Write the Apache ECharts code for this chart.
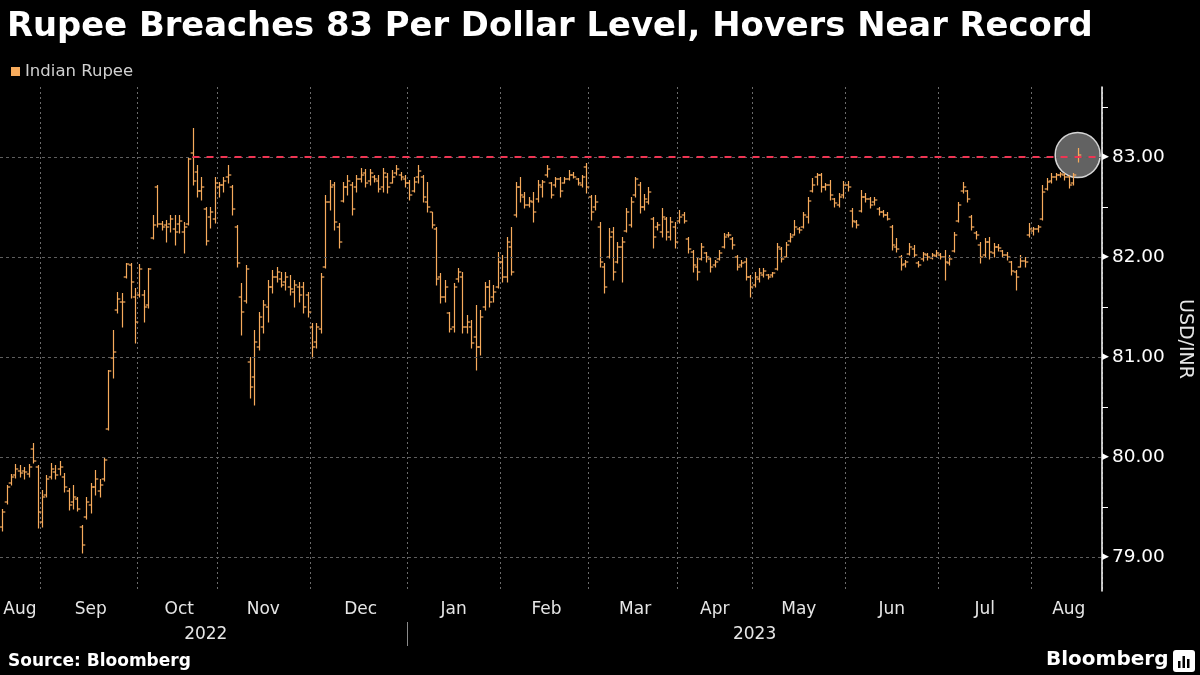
<!DOCTYPE html>
<html><head><meta charset="utf-8">
<script src="https://cdn.jsdelivr.net/npm/echarts@6/dist/echarts.min.js"></script>
<style>html,body{margin:0;padding:0;background:#000;}#c{width:1200px;height:675px;}</style>
</head><body><div id="c"></div>
<script>
// ---- data: daily OHLC [open, high, low, close] of USD/INR, by month ----
const holidays = ['2022-08-31','2022-10-05','2022-10-24','2022-10-26','2022-11-08','2023-01-26',
  '2023-03-07','2023-03-22','2023-03-30','2023-04-04','2023-04-07','2023-04-14','2023-05-01',
  '2023-05-05','2023-06-29','2023-08-15','2023-08-16'];
const aug22 = [[79.30,79.48,79.26,79.45],[79.55,79.72,79.53,79.70],[79.74,79.83,79.72,79.80],[79.82,79.93,79.79,79.88],
  [79.86,79.92,79.80,79.84],[79.86,79.90,79.78,79.85],[79.83,79.93,79.80,79.90],[80.08,80.14,79.94,79.96],[79.90,79.92,79.29,79.45]];
const sep22 = [[79.35,79.67,79.30,79.60],[79.62,79.82,79.60,79.78],[79.80,79.94,79.78,79.88],[79.85,79.92,79.78,79.82],
  [79.88,79.96,79.82,79.90],[79.80,79.84,79.65,79.70],[79.66,79.69,79.47,79.52],[79.55,79.72,79.48,79.60],
  [79.58,79.60,79.46,79.48],[79.30,79.32,79.04,79.12],[79.40,79.60,79.38,79.55],[79.52,79.74,79.44,79.70],
  [79.70,79.87,79.62,79.78],[79.66,79.78,79.60,79.72],[79.78,80.00,79.76,79.97],[80.28,80.87,80.27,80.86],
  [80.99,81.27,80.79,81.05],[81.47,81.65,81.44,81.58],[81.55,81.64,81.30,81.55],[81.80,81.94,81.79,81.93],
  [81.92,81.94,81.59,81.75],[81.60,81.69,81.14,81.35]];
const oct22 = [[81.62,81.93,81.60,81.88],[81.62,81.67,81.35,81.50],[81.52,81.89,81.49,81.88],[82.19,82.42,82.18,82.32],
  [82.70,82.72,82.30,82.33],[82.33,82.36,82.27,82.30],[82.32,82.37,82.15,82.30],[82.33,82.42,82.25,82.38],
  [82.28,82.42,82.12,82.25],[82.33,82.42,82.24,82.36],[82.25,82.35,82.04,82.30],[82.33,82.99,82.32,82.98],
  [83.04,83.29,82.72,82.76],[82.85,82.92,82.60,82.66],[82.66,82.80,82.57,82.70],[82.48,82.50,82.12,82.16],
  [82.40,82.50,82.29,82.45],[82.38,82.80,82.34,82.74]];
const nov22 = [[82.70,82.75,82.60,82.72],[82.72,82.80,82.65,82.76],[82.80,82.92,82.74,82.82],[82.70,82.72,82.42,82.48],
  [82.30,82.32,81.90,81.94],[81.60,81.74,81.22,81.45],[81.56,81.92,81.54,81.88],[80.95,81.00,80.59,80.70],
  [80.80,81.27,80.52,81.15],[81.10,81.45,81.07,81.40],[81.30,81.57,81.24,81.52],[81.50,81.77,81.35,81.70],
  [81.70,81.87,81.64,81.80],[81.80,81.90,81.75,81.85],[81.78,81.85,81.70,81.72],[81.75,81.85,81.67,81.80],
  [81.70,81.82,81.62,81.68],[81.65,81.77,81.50,81.72],[81.70,81.75,81.55,81.62],[81.70,81.75,81.44,81.50],
  [81.62,81.65,81.40,81.45]];
const dec22 = [[81.30,81.34,80.99,81.10],[81.15,81.34,81.09,81.30],[81.28,81.84,81.24,81.80],[81.90,82.62,81.89,82.55],
  [82.55,82.77,82.47,82.70],[82.72,82.75,82.27,82.35],[82.30,82.34,82.09,82.15],[82.56,82.75,82.55,82.70],
  [82.70,82.82,82.62,82.76],[82.72,82.75,82.42,82.48],[82.70,82.82,82.65,82.78],[82.78,82.89,82.75,82.82],
  [82.84,82.88,82.70,82.74],[82.76,82.88,82.72,82.84],[82.80,82.82,82.75,82.78],[82.76,82.82,82.65,82.68],
  [82.70,82.89,82.65,82.84],[82.80,82.84,82.64,82.70],[82.74,82.87,82.74,82.80],[82.84,82.92,82.82,82.88],
  [82.82,82.85,82.77,82.80],[82.78,82.82,82.70,82.74]];
const jan23 = [[82.74,82.77,82.57,82.62],[82.66,82.80,82.65,82.75],[82.80,82.92,82.74,82.86],[82.80,82.82,82.55,82.60],
  [82.55,82.75,82.45,82.50],[82.45,82.45,82.29,82.32],[82.28,82.30,81.72,81.78],[81.80,81.84,81.54,81.60],
  [81.60,81.77,81.55,81.70],[81.44,81.45,81.25,81.28],[81.30,81.74,81.25,81.70],[81.78,81.89,81.75,81.85],
  [81.80,81.85,81.24,81.30],[81.30,81.42,81.24,81.35],[81.30,81.37,81.09,81.14],[81.20,81.52,80.87,81.10],
  [81.10,81.47,81.02,81.40],[81.50,81.75,81.47,81.70],[81.70,81.77,81.50,81.55],[81.60,81.72,81.55,81.65],
  [81.70,82.05,81.69,81.95]];
const feb23 = [[81.95,82.02,81.75,81.80],[81.80,82.20,81.75,82.15],[82.10,82.30,81.82,81.85],[82.42,82.75,82.40,82.70],
  [82.70,82.80,82.55,82.62],[82.60,82.65,82.49,82.52],[82.52,82.60,82.50,82.56],[82.55,82.65,82.35,82.45],
  [82.58,82.77,82.55,82.72],[82.70,82.77,82.60,82.75],[82.82,82.92,82.80,82.88],[82.74,82.75,82.59,82.62],
  [82.72,82.80,82.70,82.78],[82.78,82.80,82.60,82.66],[82.74,82.80,82.74,82.78],[82.78,82.87,82.77,82.82],
  [82.82,82.85,82.79,82.80],[82.78,82.79,82.72,82.74],[82.72,82.82,82.70,82.80],[82.90,82.94,82.64,82.70]];
const mar23 = [[82.60,82.62,82.37,82.45],[82.50,82.62,82.47,82.55],[82.30,82.35,81.90,81.95],[81.90,81.94,81.64,81.70],
  [82.00,82.29,81.99,82.20],[82.25,82.30,81.77,81.85],[81.95,82.15,81.94,82.10],[82.10,82.20,81.75,82.15],
  [82.26,82.49,82.25,82.45],[82.32,82.60,82.30,82.55],[82.62,82.80,82.60,82.78],[82.72,82.75,82.44,82.50],
  [82.50,82.63,82.47,82.58],[82.55,82.70,82.53,82.65],[82.38,82.40,82.09,82.20],[82.30,82.35,82.27,82.32],
  [82.25,82.49,82.20,82.40],[82.38,82.40,82.17,82.25],[82.20,82.40,82.17,82.35],[82.30,82.35,82.09,82.15]];
const apr23 = [[82.36,82.47,82.34,82.40],[82.42,82.45,82.34,82.36],[82.18,82.20,82.04,82.08],[82.05,82.07,81.85,81.92],
  [81.90,81.99,81.77,81.85],[81.98,82.14,81.97,82.10],[82.04,82.05,81.95,82.00],[81.98,81.99,81.85,81.90],
  [81.92,81.97,81.90,81.95],[81.98,82.07,81.97,82.04],[82.10,82.24,82.09,82.20],[82.22,82.25,82.20,82.22],
  [82.18,82.20,82.08,82.12],[82.00,82.02,81.87,81.90],[81.92,81.97,81.90,81.94],[81.95,81.99,81.77,81.80],
  [81.80,81.82,81.60,81.70]];
const may23 = [[81.72,81.85,81.70,81.80],[81.78,81.89,81.75,81.84],[81.82,81.89,81.80,81.86],[81.82,81.83,81.78,81.80],
  [81.82,81.85,81.80,81.84],[81.88,82.14,81.87,82.10],[82.08,82.10,81.95,81.98],[82.00,82.15,82.00,82.12],
  [82.16,82.24,82.15,82.20],[82.22,82.37,82.22,82.30],[82.28,82.30,82.24,82.27],[82.30,82.45,82.29,82.42],
  [82.40,82.60,82.34,82.56],[82.66,82.79,82.65,82.72],[82.80,82.84,82.72,82.82],[82.82,82.84,82.65,82.70],
  [82.70,82.74,82.67,82.72],[82.72,82.77,82.57,82.62],[82.58,82.59,82.50,82.54],[82.52,82.64,82.50,82.60],
  [82.62,82.76,82.59,82.72]];
const jun23 = [[82.72,82.76,82.66,82.70],[82.46,82.49,82.30,82.36],[82.35,82.37,82.29,82.32],[82.46,82.67,82.45,82.60],
  [82.60,82.64,82.55,82.58],[82.58,82.60,82.49,82.52],[82.55,82.60,82.52,82.57],[82.48,82.50,82.42,82.45],
  [82.45,82.47,82.40,82.42],[82.42,82.45,82.37,82.38],[82.30,82.32,82.07,82.12],[82.10,82.19,82.05,82.08],
  [82.00,82.02,81.87,81.92],[81.93,81.97,81.90,81.95],[82.03,82.14,82.02,82.10],[82.08,82.12,82.00,82.02],
  [81.94,81.96,81.90,81.92],[81.98,82.05,81.96,82.03],[82.02,82.04,81.97,82.00],[81.99,82.04,81.98,82.02],
  [82.01,82.07,82.00,82.04]];
const jul23 = [[82.02,82.04,81.98,82.00],[82.00,82.07,81.77,81.95],[81.94,82.02,81.92,81.98],[82.06,82.25,82.05,82.22],
  [82.36,82.55,82.35,82.52],[82.66,82.75,82.64,82.70],[82.66,82.67,82.55,82.58],[82.40,82.42,82.27,82.30],
  [82.24,82.26,82.18,82.22],[82.12,82.15,81.94,82.00],[82.02,82.19,82.00,82.15],[82.15,82.20,81.98,82.05],
  [82.04,82.14,82.00,82.10],[82.10,82.13,82.06,82.09],[82.06,82.07,82.00,82.02],[82.02,82.05,81.97,82.00],
  [81.95,81.96,81.82,81.86],[81.85,81.87,81.67,81.80],[81.90,82.02,81.90,81.96],[81.96,82.00,81.90,81.95],
  [82.22,82.34,82.20,82.28]];
const aug23 = [[82.26,82.30,82.22,82.28],[82.28,82.32,82.25,82.30],[82.38,82.72,82.37,82.65],[82.68,82.79,82.67,82.75],
  [82.76,82.84,82.74,82.80],[82.80,82.84,82.77,82.82],[82.82,82.85,82.80,82.83],[82.82,82.84,82.77,82.80],
  [82.80,82.82,82.69,82.72],[82.74,82.84,82.72,82.82],[83.00,83.09,82.95,83.02]];
const yTickLabels = [79, 80, 81, 82, 83];
const yMinorTicks = [79.5, 80.5, 81.5, 82.5, 83.5];
const recordLevel = 83.0;
const recordStartDate = '2022-10-20';
const monthNames = ['Jan','Feb','Mar','Apr','May','Jun','Jul','Aug','Sep','Oct','Nov','Dec'];

// ---- trading calendar (weekdays minus Indian market holidays) ----
function weekdays(from, to) {
  const out = []; const d = new Date(from + 'T00:00:00Z'); const end = new Date(to + 'T00:00:00Z');
  while (d <= end) { const w = d.getUTCDay(); if (w !== 0 && w !== 6) out.push(d.toISOString().slice(0, 10)); d.setUTCDate(d.getUTCDate() + 1); }
  return out;
}
const tradingDates = weekdays('2022-08-18', '2023-08-17').filter(d => !holidays.includes(d));
const padDates = weekdays('2023-08-18', '2023-08-24');
const categories = tradingDates.concat(padDates);
const ohlc = [].concat(aug22, sep22, oct22, nov22, dec22, jan23, feb23, mar23, apr23, may23, jun23, jul23, aug23);
const seriesData = ohlc.map((v, i) => [i, v[0], v[1], v[2], v[3]]);
const lastIdx = ohlc.length - 1;

// month boundaries & label positions
const monthStart = new Set(); const monthLabelIdx = new Set();
(function () {
  let start = 0;
  for (let i = 1; i <= categories.length; i++) {
    if (i === categories.length || categories[i].slice(0, 7) !== categories[i - 1].slice(0, 7)) {
      monthLabelIdx.add(start + Math.floor((i - start) / 2));
      if (i < categories.length) monthStart.add(i);
      start = i;
    }
  }
})();
const yearStartIdx = categories.findIndex(d => d.startsWith('2023'));
const yearLabelIdx = new Set([Math.floor(yearStartIdx / 2), yearStartIdx + Math.floor((categories.length - yearStartIdx) / 2)]);

const FONT = 'DejaVu Sans';
const BAR = '#f7ab5c';
const chart = echarts.init(document.getElementById('c'), null, { renderer: 'canvas' });
chart.setOption({
  backgroundColor: '#000',
  animation: false,
  title: { text: 'Rupee Breaches 83 Per Dollar Level, Hovers Near Record', left: 2, top: 5,
    textStyle: { color: '#fff', fontSize: 33.8, fontWeight: 'bold', fontFamily: FONT } },
  legend: { data: ['Indian Rupee'], left: 6, top: 58, icon: 'rect', itemWidth: 9, itemHeight: 9, itemGap: 6,
    textStyle: { color: '#d0d0d0', fontSize: 16.5, fontFamily: FONT } },
  grid: { left: 0, right: 98, top: 87, bottom: 84, containLabel: false, outerBoundsMode: 'none' },
  xAxis: [{
    type: 'category', data: categories, boundaryGap: true,
    axisLine: { show: false }, axisTick: { show: false },
    axisLabel: { interval: (i) => monthLabelIdx.has(i), color: '#e6e6e6', fontSize: 17, fontFamily: FONT, margin: 10,
      formatter: (v) => monthNames[parseInt(v.slice(5, 7), 10) - 1] },
    splitLine: { show: true, interval: (i) => monthStart.has(i), lineStyle: { color: '#6a6a6a', type: [2, 3], width: 1 } }
  }, {
    type: 'category', data: categories, boundaryGap: true, position: 'bottom', offset: 32,
    axisLine: { show: false }, axisTick: { show: false },
    axisLabel: { interval: (i) => yearLabelIdx.has(i), color: '#e6e6e6', fontSize: 17, fontFamily: FONT, margin: 3,
      formatter: (v) => v.slice(0, 4) },
    splitLine: { show: false }
  }],
  yAxis: {
    type: 'value', position: 'right', min: 78.66, max: 83.70, scale: true,
    name: 'USD/INR', nameLocation: 'middle', nameRotate: -90, nameGap: 73,
    nameTextStyle: { color: '#e6e6e6', fontSize: 19, fontFamily: FONT },
    axisLine: { show: true, lineStyle: { color: '#fff', width: 1.5 } },
    axisTick: { show: true, customValues: yMinorTicks, length: 6, lineStyle: { color: '#fff', width: 1 } },
    axisLabel: { customValues: yTickLabels, margin: 0, color: '#fff', fontSize: 18.5, fontFamily: FONT,
      formatter: (v) => '{t|▶}' + v.toFixed(2),
      rich: { t: { fontSize: 9, color: '#fff', padding: [0, 3, 0, 0] } } },
    splitLine: { show: false }
  },
  series: [{
    name: 'record', type: 'scatter', z: 1, silent: true,
    data: [[lastIdx, ohlc[lastIdx][3]]], symbol: 'circle', symbolSize: 45,
    itemStyle: { color: '#7a7a7a', borderColor: '#ffffff', borderWidth: 1.5 },
    markLine: { silent: true, symbol: 'none', label: { show: false },
      lineStyle: { color: '#5e5e5e', type: [3, 3], width: 1 },
      data: yTickLabels.map(v => ({ yAxis: v })) }
  }, {
    name: 'Indian Rupee', type: 'custom', z: 3,
    itemStyle: { color: BAR },
    encode: { x: 0, y: [1, 2, 3, 4] },
    data: seriesData,
    renderItem: function (params, api) {
      const i = api.value(0);
      const pH = api.coord([i, api.value(2)]), pL = api.coord([i, api.value(3)]);
      const pO = api.coord([i, api.value(1)]), pC = api.coord([i, api.value(4)]);
      const t = 2.8; const x = Math.round(pH[0]) + 0.5;
      const st = { stroke: BAR, lineWidth: 1.2 };
      return { type: 'group', children: [
        { type: 'line', shape: { x1: x, y1: pH[1], x2: x, y2: pL[1] + 0.5 }, style: st },
        { type: 'line', shape: { x1: x - t, y1: pO[1], x2: x, y2: pO[1] }, style: st },
        { type: 'line', shape: { x1: x, y1: pC[1], x2: x + t, y2: pC[1] }, style: st }
      ] };
    },
    markLine: { silent: true, symbol: 'none', label: { show: false }, z: 5,
      lineStyle: { color: '#ee3553', type: [7, 7], width: 2 },
      data: [[{ coord: [categories.indexOf(recordStartDate), recordLevel] }, { coord: [categories.length - 1, recordLevel] }]] }
  }],
  graphic: [
    { id: 'src', type: 'text', left: 8, top: 653, style: { text: 'Source: Bloomberg', fill: '#fff', font: 'bold 17px "DejaVu Sans"' } },
    { id: 'brand', type: 'text', left: 1046, top: 650, style: { text: 'Bloomberg', fill: '#fff', font: 'bold 20px "DejaVu Sans"' } },
    { id: 'icon', type: 'group', left: 1173, top: 650, children: [
      { type: 'rect', shape: { x: 0, y: 0, width: 22, height: 22, r: 3 }, style: { fill: '#fff' } },
      { type: 'rect', shape: { x: 5, y: 11, width: 2.5, height: 7 }, style: { fill: '#000' } },
      { type: 'rect', shape: { x: 9.5, y: 6, width: 2.5, height: 12 }, style: { fill: '#000' } },
      { type: 'rect', shape: { x: 14, y: 9, width: 2.5, height: 9 }, style: { fill: '#000' } }
    ] }
  ]
});
// year separator between 2022 and 2023, placed on the category boundary via the axis scale
const p0 = chart.convertToPixel({ xAxisIndex: 0 }, 0);
const p1 = chart.convertToPixel({ xAxisIndex: 0 }, 1);
const pY = chart.convertToPixel({ xAxisIndex: 0 }, yearStartIdx);
const sepX = Math.round(pY - (p1 - p0) / 2) + 0.5;
chart.setOption({ graphic: { elements: [{ id: 'yearSep', type: 'line', silent: true, z: 10,
  shape: { x1: sepX, y1: 622, x2: sepX, y2: 646 }, style: { stroke: '#8a8a8a', lineWidth: 1 } }] } });
</script></body></html>
